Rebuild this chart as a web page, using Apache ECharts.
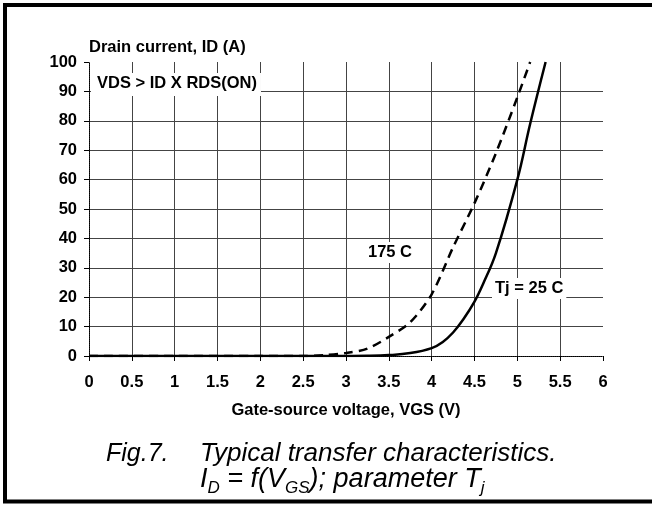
<!DOCTYPE html>
<html>
<head>
<meta charset="utf-8">
<script src="https://cdn.jsdelivr.net/npm/echarts@6/dist/echarts.min.js"></script>
<style>
html,body{margin:0;padding:0;background:#fff;}
#main{width:652px;height:508px;}
</style>
</head>
<body>
<div id="main"></div>
<script>
// Tj = 25 C (solid)
var vgs25 = [0, 1, 2, 3, 3.25, 3.5, 3.75, 4, 4.13, 4.25, 4.37, 4.5, 4.6, 4.75, 5, 5.15, 5.33];
var id25 = [0, 0, 0, 0, 0.05, 0.3, 1, 2.7, 4.8, 8, 12.5, 18.5, 24.5, 35, 60, 79, 100];
// Tj = 175 C (dashed)
var vgs175 = [0, 1, 2, 2.5, 2.75, 3, 3.25, 3.5, 3.75, 4, 4.25, 4.5, 4.75, 5, 5.15];
var id175 = [0, 0, 0, 0, 0.3, 1, 2.5, 6.5, 11.5, 21, 37, 52, 69, 88, 100];

var xTicks = [0, 6, 0.5];   // min, max, step
var yTicks = [0, 100, 10];

function pairs(xs, ys){
	var out = [];
	for (var i = 0; i < xs.length; i++) out.push([xs[i], ys[i]]);
	return out;
}

var fam = 'Liberation Sans, Arial, sans-serif';
var lblFont = {fontFamily:fam, fontWeight:'bold', fontSize:16.5, color:'#000'};
var gridCol = '#444';

var chart = echarts.init(document.getElementById('main'));
chart.setOption({
	animation:false,
	backgroundColor:'#fff',
	grid:{left:89, top:62, width:514, height:294, containLabel:false},
	xAxis:[{
		type:'value', min:xTicks[0], max:xTicks[1], interval:xTicks[2],
		axisLine:{lineStyle:{color:'#000', type:'dotted', width:1}},
		axisTick:{show:true, inside:false, length:5, lineStyle:{color:'#000'}},
		axisLabel:Object.assign({margin:18}, lblFont),
		splitLine:{show:true, showMinLine:false, showMaxLine:false, lineStyle:{color:gridCol, width:1}},
		name:'Gate-source voltage, VGS (V)', nameLocation:'middle', nameGap:46,
		nameTextStyle:lblFont
	},{
		type:'value', position:'top', min:xTicks[0], max:xTicks[1],
		axisLine:{show:true, lineStyle:{color:'#000', type:'dotted', width:1}},
		axisTick:{show:false}, axisLabel:{show:false}, splitLine:{show:false}
	}],
	yAxis:[{
		type:'value', min:yTicks[0], max:yTicks[1], interval:yTicks[2],
		axisLine:{show:true, lineStyle:{color:'#000', type:'dotted', width:1}},
		axisTick:{show:true, inside:false, length:5, lineStyle:{color:'#000'}},
		axisLabel:Object.assign({margin:12}, lblFont),
		splitLine:{show:true, showMinLine:false, showMaxLine:false, lineStyle:{color:gridCol, width:1}}
	},{
		type:'value', position:'right', min:yTicks[0], max:yTicks[1],
		axisLine:{show:true, lineStyle:{color:'#000', type:'dotted', width:1}},
		axisTick:{show:false}, axisLabel:{show:false}, splitLine:{show:false}
	}],
	series:[{
		type:'line', name:'25 C', data:pairs(vgs25, id25), smooth:0.4,
		showSymbol:false, lineStyle:{color:'#000', width:2.5}, z:5
	},{
		type:'line', name:'175 C', data:pairs(vgs175, id175), smooth:0.3,
		showSymbol:false, lineStyle:{color:'#000', width:2.5, type:[9,6]}, z:5
	}],
	graphic:[
		{type:'rect', shape:{x:5, y:5, width:700, height:496.5},
			style:{fill:null, stroke:'#000', lineWidth:4}, silent:true},
		{type:'text', left:89, top:39,
			style:Object.assign({text:'Drain current, ID (A)'}, lblFont, {fill:'#000'})},
		{type:'text', left:91, top:73, z:3,
			style:Object.assign({text:'VDS > ID X RDS(ON)', backgroundColor:'#fff', padding:[2,4,4,6]}, lblFont, {fill:'#000'})},
		{type:'text', left:365, top:242, z:3,
			style:Object.assign({text:'175 C', backgroundColor:'#fff', padding:[2,3,2,3]}, lblFont, {fill:'#000'})},
		{type:'text', left:492, top:278, z:3,
			style:Object.assign({text:'Tj = 25 C', backgroundColor:'#fff', padding:[2,3,2,3]}, lblFont, {fill:'#000'})},
		{type:'text', left:106, top:442,
			style:{text:'Fig.7.', fontFamily:fam, fontStyle:'italic', fontSize:25, fill:'#000'}},
		{type:'text', left:200, top:441,
			style:{text:'Typical transfer characteristics.', fontFamily:fam, fontStyle:'italic', fontSize:26, fill:'#000'}},
		{type:'text', left:200, top:466,
			style:{
				text:'{n|I}{s|D}{n| = f(V}{s|GS}{n|); parameter T}{s|j}',
				fontFamily:fam, fontStyle:'italic', fill:'#000',
				rich:{
					n:{fontSize:27, lineHeight:27, verticalAlign:'bottom', padding:[0,0,4,0], fontStyle:'italic', fontFamily:fam},
					s:{fontSize:17, lineHeight:17, verticalAlign:'bottom', fontStyle:'italic', fontFamily:fam}
				}
			}}
	]
});
</script>
</body>
</html>
